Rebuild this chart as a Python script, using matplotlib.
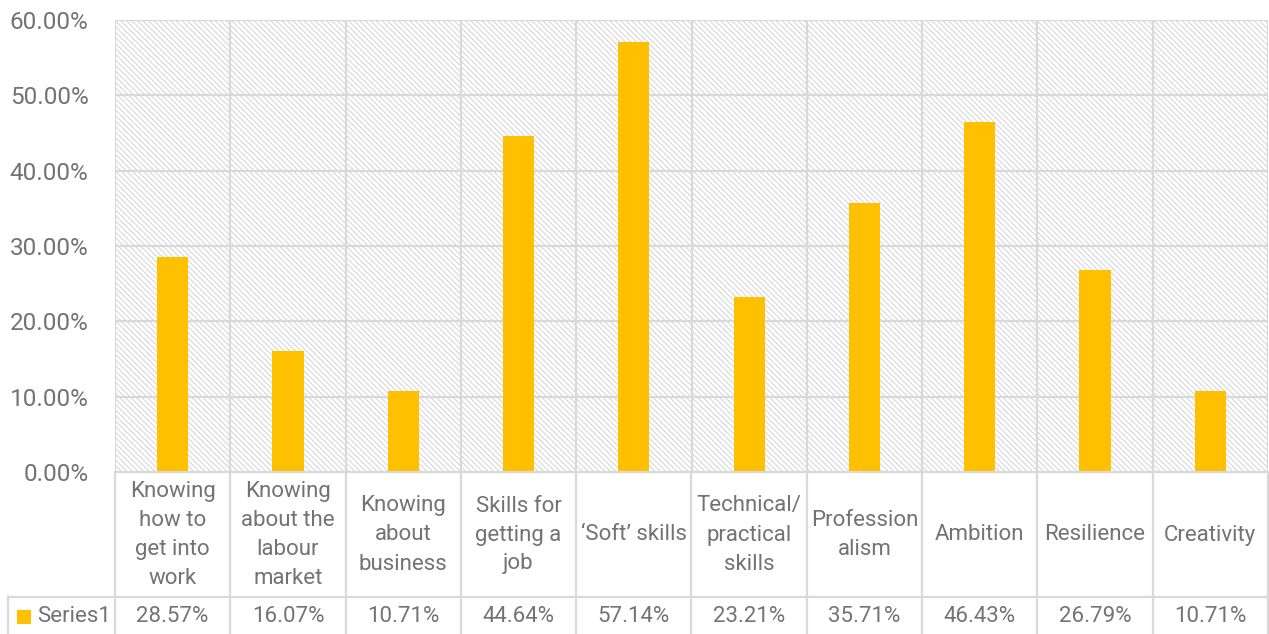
import matplotlib
matplotlib.use("Agg")
import matplotlib.pyplot as plt
from matplotlib.patches import Rectangle
from matplotlib.lines import Line2D
from matplotlib.ticker import FuncFormatter, MultipleLocator

# ---- data ----
categories = [
    "Knowing\nhow to\nget into\nwork",
    "Knowing\nabout the\nlabour\nmarket",
    "Knowing\nabout\nbusiness",
    "Skills for\ngetting a\njob",
    "\u2018Soft\u2019 skills",
    "Technical/\npractical\nskills",
    "Profession\nalism",
    "Ambition",
    "Resilience",
    "Creativity",
]
values = [28.57, 16.07, 10.71, 44.64, 57.14, 23.21, 35.71, 46.43, 26.79, 10.71]
series_name = "Series1"

# ---- style ----
W, H = 1269, 634
BAR = "#FFC000"
GRID = "#d9d9d9"
TXT = "#737373"
FONT = "Roboto"
FS = 16

plt.rcParams['font.family'] = [FONT, 'DejaVu Sans']
plt.rcParams['hatch.linewidth'] = 0.8

fig = plt.figure(figsize=(W / 100, H / 100), dpi=100)
fig.patch.set_facecolor("white")

def fx(px):
    return px / W

def fy(py):
    return 1 - py / H

left, right, top, bottom = 115, 1268, 20, 472
ax = fig.add_axes([fx(left), fy(bottom), fx(right) - fx(left), fy(top) - fy(bottom)])
n = len(categories)
ax.set_xlim(0, n)
ax.set_ylim(0, 60)

# hatched background
ax.patch.set_facecolor("white")
bg = Rectangle((0, 0), 1, 1, transform=ax.transAxes, facecolor="white",
               edgecolor="#d8d8d8", linewidth=0, hatch="\\" * 6, zorder=0)
ax.add_patch(bg)

# grid
ax.yaxis.set_major_locator(MultipleLocator(10))
for y in range(10, 61, 10):
    ax.axhline(y, color=GRID, lw=1.6, zorder=1)
for i in range(n + 1):
    ax.axvline(i, color=GRID, lw=1.6, zorder=1)

xs = [i + 0.5 for i in range(n)]
ax.bar(xs, values, width=0.27, color=BAR, zorder=3)

for s in ax.spines.values():
    s.set_visible(False)
ax.set_xticks([])
ax.yaxis.set_major_formatter(FuncFormatter(lambda v, p: f"{v:.2f}%"))
ax.tick_params(axis="y", length=0, pad=19, labelsize=17.5, labelcolor=TXT)

# ---- data table ----
row1_bottom = 597
tbl_bottom = H
lines = []
lines.append(Line2D([fx(left), fx(right)], [fy(bottom), fy(bottom)]))
lines.append(Line2D([fx(8), fx(right)], [fy(row1_bottom), fy(row1_bottom)]))
cw = (right - left) / n
for i in range(n + 1):
    x = left + i * cw
    lines.append(Line2D([fx(x), fx(x)], [fy(bottom), fy(tbl_bottom)]))
lines.append(Line2D([fx(8), fx(8)], [fy(row1_bottom), fy(tbl_bottom)]))
for ln in lines:
    ln.set_color(GRID)
    ln.set_linewidth(1.6)
    ln.set_transform(fig.transFigure)
    fig.add_artist(ln)

for i, (cat, v) in enumerate(zip(categories, values)):
    cx = left + (i + 0.5) * cw
    fig.text(fx(cx), fy(535), cat, ha="center", va="center", fontsize=FS,
             color=TXT, linespacing=1.5)
    fig.text(fx(cx), fy(616), f"{v:.2f}%", ha="center", va="center",
             fontsize=FS, color=TXT)

# legend key
fig.add_artist(Rectangle((fx(17), fy(624)), fx(14), 14 / H, facecolor=BAR,
                         edgecolor="none", transform=fig.transFigure))
fig.text(fx(37), fy(616), series_name, ha="left", va="center", fontsize=FS, color=TXT)

fig.savefig("out.png", dpi=100, facecolor="white")
